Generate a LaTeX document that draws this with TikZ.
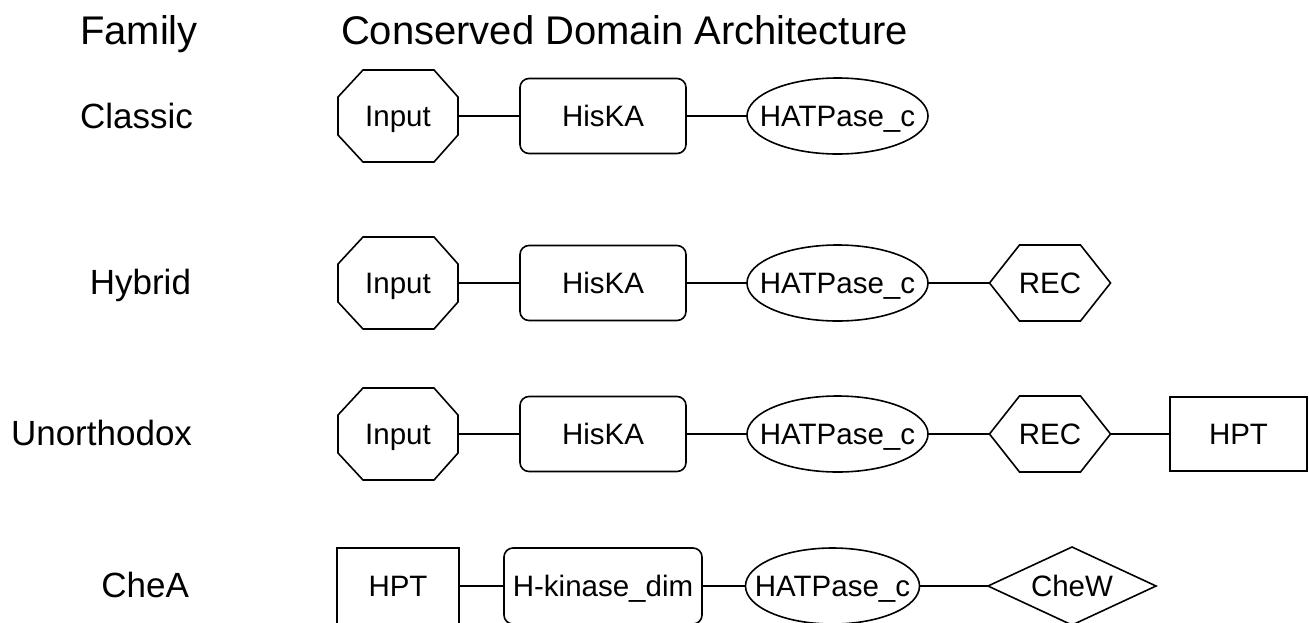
\documentclass[tikz,border=0pt]{standalone}
\usepackage{fontspec}
\setmainfont{Liberation Sans}
\usetikzlibrary{calc}
\newcommand\drawocta[1]{\draw ($(#1.north west)+(25,0)$) -- ($(#1.north east)+(-24,0)$) -- ($(#1.north east)+(0,27)$) -- ($(#1.south east)+(0,-27)$) -- ($(#1.south east)+(-24,0)$) -- ($(#1.south west)+(25,0)$) -- ($(#1.south west)+(0,-27)$) -- ($(#1.north west)+(0,27)$) -- cycle;}
\newcommand\drawhexa[1]{\draw (#1.west) -- ($(#1.north west)+(30,0)$) -- ($(#1.north east)+(-30,0)$) -- (#1.east) -- ($(#1.south east)+(-30,0)$) -- ($(#1.south west)+(30,0)$) -- cycle;}
\newcommand\drawdiam[1]{\draw (#1.west) -- (#1.north) -- (#1.east) -- (#1.south) -- cycle;}
\newcommand\drawell[1]{\draw let \p1=($(#1.east)-(#1.center)$), \p2=($(#1.north)-(#1.center)$) in (#1.center) ellipse [x radius=\x1, y radius=\y2];}
\begin{document}
\begin{tikzpicture}[x=1pt,y=-1pt, line width=1.6pt,
  every node/.style={inner sep=0pt, outer sep=0pt},
  lbl/.style={font=\fontsize{35}{40}\selectfont, text height=25pt, text depth=0pt},
  hdr/.style={font=\fontsize{40}{46}\selectfont, text height=28.6pt, text depth=0pt},
  dom/.style={font=\fontsize{29.5}{34}\selectfont, text height=21.1pt, text depth=0pt},
  octa/.style={dom, minimum width=120pt, minimum height=92pt},
  rbox/.style={dom, draw, rounded corners=9pt, minimum width=166pt, minimum height=75pt},
  ell/.style={dom, minimum width=181pt, minimum height=76pt},
  hexa/.style={dom, minimum width=121pt, minimum height=76pt},
  sqbox/.style={dom, draw, minimum width=137pt, minimum height=74pt},
  diam/.style={dom, minimum width=168pt, minimum height=78pt}
]
\useasboundingbox (0,0) rectangle (1309,622);
% headers
\node[hdr] (hfam) at (139,30) {Family};
\node[hdr, anchor=west] (hcda) at (341,30) {Conserved Domain Architecture};
% family labels
\node[lbl, anchor=east] (lc) at (193,116) {Classic};
\node[lbl, anchor=east] (lh) at (191,282) {Hybrid};
\node[lbl, anchor=east] (lu) at (192,433) {Unorthodox};
\node[lbl, anchor=east] (la) at (189,585) {CheA};
% row 1
\node[octa] (i1) at (398,116) {Input};
\node[rbox] (k1) at (603,116) {HisKA};
\node[ell] (e1) at (837.5,116) {HATPase\_c};
\drawocta{i1}
\drawell{e1}
\draw (i1) -- (k1);
\draw (k1) -- (e1);
% row 2
\node[octa] (i2) at (398,283) {Input};
\node[rbox] (k2) at (603,283) {HisKA};
\node[ell] (e2) at (837.5,283) {HATPase\_c};
\node[hexa] (r2) at (1050,283) {REC};
\drawocta{i2}
\drawell{e2}
\drawhexa{r2}
\draw (i2) -- (k2);
\draw (k2) -- (e2);
\draw (e2) -- (r2);
% row 3
\node[octa] (i3) at (398,434) {Input};
\node[rbox] (k3) at (603,434) {HisKA};
\node[ell] (e3) at (837.5,434) {HATPase\_c};
\node[hexa] (r3) at (1050,434) {REC};
\node[sqbox] (p3) at (1238.5,434) {HPT};
\drawocta{i3}
\drawell{e3}
\drawhexa{r3}
\draw (i3) -- (k3);
\draw (k3) -- (e3);
\draw (e3) -- (r3);
\draw (r3) -- (p3);
% row 4
\node[sqbox, minimum width=122pt, minimum height=76pt] (p4) at (398,586) {HPT};
\node[rbox, minimum width=198pt, minimum height=76pt] (k4) at (603,586) {H-kinase\_dim};
\node[ell, minimum width=174pt] (e4) at (832.5,586) {HATPase\_c};
\node[diam] (w4) at (1072,586) {CheW};
\drawell{e4}
\drawdiam{w4}
\draw (p4) -- (k4);
\draw (k4) -- (e4);
\draw (e4) -- (w4);
\end{tikzpicture}
\end{document}
